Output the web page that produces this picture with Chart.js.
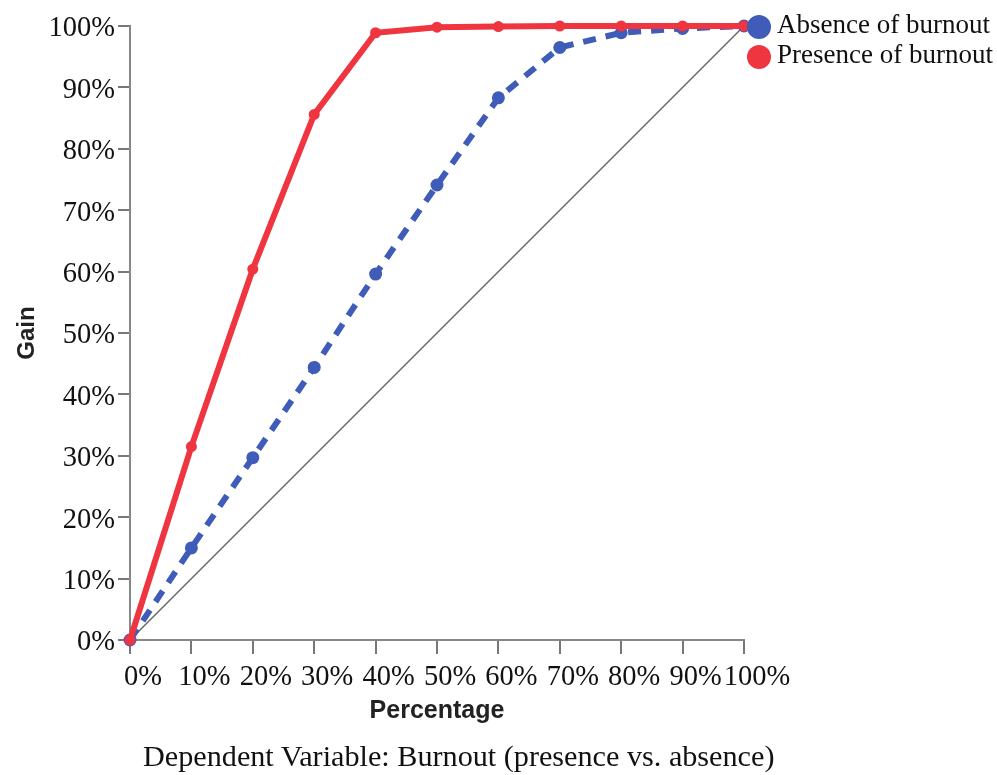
<!DOCTYPE html>
<html>
<head>
<meta charset="utf-8">
<script src="https://cdn.jsdelivr.net/npm/chart.js@4.4.1/dist/chart.umd.min.js"></script>
<style>
  body { margin: 0; background: #fff; }
  #wrap { position: relative; width: 997px; height: 775px; }
  #caption {
    position: absolute; left: 143px; top: 739px;
    font-family: "Liberation Serif", "Times New Roman", serif;
    font-size: 30.2px; color: #111; white-space: nowrap;
  }
</style>
</head>
<body>
<div id="wrap">
  <canvas id="gainChart" width="997" height="775"></canvas>
  <div id="caption">Dependent Variable: Burnout (presence vs. absence)</div>
</div>
<script>
// 数据：累计增益（Gain）随样本百分比变化
const percentages = [0, 10, 20, 30, 40, 50, 60, 70, 80, 90, 100];
const absenceGain = [0, 15, 29.7, 44.4, 59.6, 74.1, 88.3, 96.5, 98.9, 99.6, 100];
const presenceGain = [0, 31.5, 60.4, 85.6, 98.9, 99.8, 99.9, 100, 100, 100, 100];
const baselineX = [0, 100];
const baselineY = [0, 100];
const legendLabels = ['Absence of burnout', 'Presence of burnout'];

const BLUE = '#3e5cb8';
const RED = '#ee3540';

function toPoints(xs, ys) {
    return xs.map((x, i) => ({ x: x, y: ys[i] }));
}

// 右上角图例（自绘）
const cornerLegend = {
    id: 'cornerLegend',
    afterDraw(chart) {
        const ctx = chart.ctx;
        const items = [
            { text: legendLabels[0], color: BLUE, y: 27 },
            { text: legendLabels[1], color: RED, y: 57 }
        ];
        ctx.save();
        ctx.font = '27px "Liberation Serif", "Times New Roman", serif';
        ctx.textBaseline = 'alphabetic';
        ctx.textAlign = 'left';
        items.forEach(it => {
            ctx.beginPath();
            ctx.fillStyle = it.color;
            ctx.arc(759, it.y, 12, 0, Math.PI * 2);
            ctx.fill();
            ctx.fillStyle = '#111';
            ctx.fillText(it.text, 777, it.y + 6);
        });
        ctx.restore();
    }
};

const tickFont = { family: '"Liberation Serif", "Times New Roman", serif', size: 28.5 };
const xTitleFont = { family: '"Liberation Sans", Arial, sans-serif', size: 25, weight: 'bold' };
const yTitleFont = { family: '"Liberation Sans", Arial, sans-serif', size: 24, weight: 'bold' };

new Chart(document.getElementById('gainChart').getContext('2d'), {
    type: 'line',
    data: {
        datasets: [
            {
                label: legendLabels[1],
                data: toPoints(percentages, presenceGain),
                borderColor: RED,
                backgroundColor: RED,
                borderWidth: 6,
                pointRadius: 5.5,
                pointBorderWidth: 0,
                tension: 0,
                clip: false,
                order: 1
            },
            {
                label: legendLabels[0],
                data: toPoints(percentages, absenceGain),
                borderColor: BLUE,
                backgroundColor: BLUE,
                borderWidth: 6,
                borderDash: [13, 10],
                pointRadius: 6.5,
                pointBorderWidth: 0,
                tension: 0,
                clip: false,
                order: 2
            },
            {
                label: 'Baseline',
                data: toPoints(baselineX, baselineY),
                borderColor: '#666',
                borderWidth: 1.5,
                pointRadius: 0,
                clip: false,
                order: 3
            }
        ]
    },
    options: {
        responsive: false,
        animation: false,
        layout: { padding: { left: 0, right: 253, top: 26, bottom: 35 } },
        plugins: {
            legend: { display: false },
            tooltip: { enabled: false }
        },
        scales: {
            x: {
                type: 'linear',
                min: 0,
                max: 100,
                ticks: {
                    stepSize: 10,
                    font: tickFont,
                    color: '#111',
                    padding: 6,
                    labelOffset: 13,
                    maxRotation: 0,
                    autoSkip: false,
                    callback: v => v + '%'
                },
                grid: { drawOnChartArea: false, drawTicks: true, tickLength: 14, color: '#777', lineWidth: 2 },
                border: { display: true, color: '#888', width: 2 },
                title: { display: true, text: 'Percentage', font: xTitleFont, color: '#222', padding: { top: 0, bottom: 14 } },
                afterFit(scale) { scale.height = 100; }
            },
            y: {
                min: 0,
                max: 100,
                ticks: {
                    stepSize: 10,
                    font: tickFont,
                    color: '#111',
                    padding: 3,
                    labelOffset: 3,
                    callback: v => v + '%'
                },
                grid: { drawOnChartArea: false, drawTicks: true, tickLength: 12, color: '#777', lineWidth: 2 },
                border: { display: true, color: '#888', width: 2 },
                title: { display: true, text: 'Gain', font: yTitleFont, color: '#222', padding: { top: 13, bottom: 0 } },
                afterFit(scale) { scale.width = 130; }
            }
        }
    },
    plugins: [cornerLegend]
});
</script>
</body>
</html>
